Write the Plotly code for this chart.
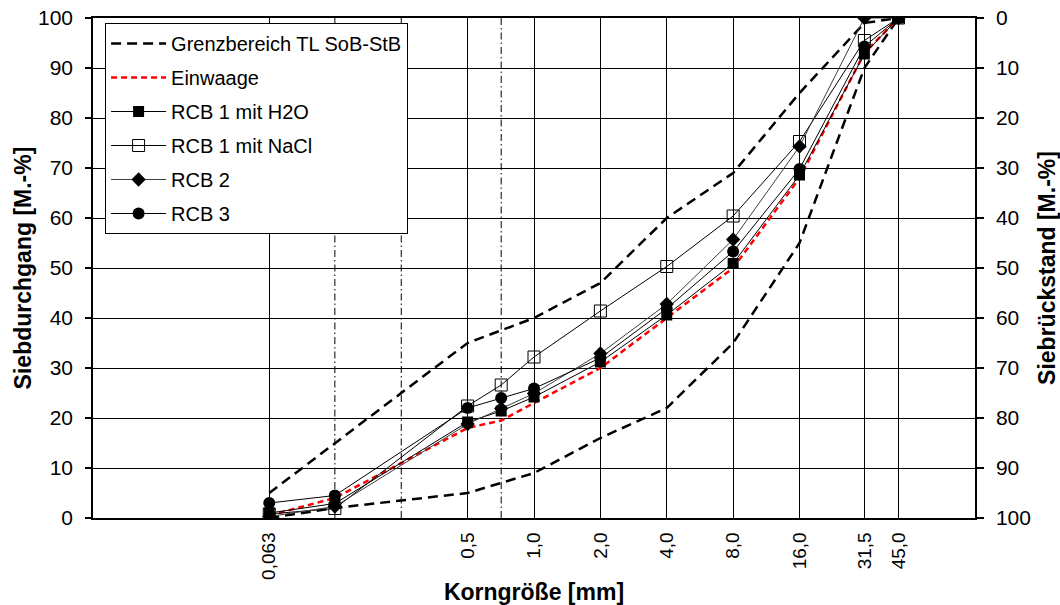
import plotly.graph_objects as go

# ---------------- data ----------------
sieve_ticks = [0.063, 0.5, 1.0, 2.0, 4.0, 8.0, 16.0, 31.5, 45.0]
sieve_tick_text = ["0,063", "0,5", "1,0", "2,0", "4,0", "8,0", "16,0", "31,5", "45,0"]
aux_sieves = [0.125, 0.25, 0.71]          # dash-dot helper sieves (no label)

limit_x = [0.063, 0.125, 0.25, 0.5, 1.0, 2.0, 4.0, 8.0, 16.0, 31.5, 45.0]
limit_upper = [5, 15, 25, 35, 40, 47, 60, 69, 85, 99, 100]
limit_lower = [0, 2, 3.5, 5, 9, 16, 22, 35, 55, 90, 100]

sample_x = [0.063, 0.125, 0.5, 0.71, 1.0, 2.0, 4.0, 8.0, 16.0, 31.5, 45.0]
einwaage = [0.5, 4.0, 18.0, 19.5, 23.0, 30.0, 40.0, 50.0, 68.0, 93.0, 100]
rcb1_h2o = [1.0, 2.9, 19.2, 21.4, 24.2, 31.2, 40.6, 50.9, 68.6, 92.8, 100]
rcb1_nacl = [0.8, 1.9, 22.4, 26.6, 32.2, 41.4, 50.3, 60.4, 75.3, 95.5, 100]
rcb2 = [0.3, 2.3, 18.8, 21.9, 24.9, 32.9, 42.8, 55.7, 74.3, 100, 100]
rcb3 = [3.0, 4.5, 22.0, 24.0, 25.9, 32.0, 41.9, 53.3, 69.8, 94.3, 100]

y_ticks = list(range(0, 101, 10))

FONT = "Liberation Sans, Arial, sans-serif"

fig = go.Figure()

# dash-dot helper lines
for v in aux_sieves:
    fig.add_trace(go.Scatter(
        x=[v, v], y=[0, 100], mode="lines",
        line=dict(color="black", width=1, dash="7px,3px,1.5px,3px"),
        showlegend=False, hoverinfo="skip", legendgroup="aux"))

# limit curves
fig.add_trace(go.Scatter(
    x=limit_x, y=limit_upper, mode="lines", name="Grenzbereich TL SoB-StB",
    line=dict(color="black", width=2.5, dash="10px,6px"),
    legendgroup="limit", legendrank=1))
fig.add_trace(go.Scatter(
    x=limit_x, y=limit_lower, mode="lines", name="Grenzbereich TL SoB-StB",
    line=dict(color="black", width=2.5, dash="10px,6px"),
    legendgroup="limit", showlegend=False))

fig.add_trace(go.Scatter(
    x=sample_x, y=einwaage, mode="lines", name="Einwaage",
    line=dict(color="#ff0000", width=2.5, dash="6px,4px"),
    legendgroup="ein", legendrank=2))

fig.add_trace(go.Scatter(
    x=sample_x, y=rcb1_h2o, mode="lines+markers", name="RCB 1 mit H2O",
    line=dict(color="black", width=1),
    marker=dict(symbol="square", size=11, color="black"),
    legendgroup="h2o", legendrank=3))

fig.add_trace(go.Scatter(
    x=sample_x, y=rcb1_nacl, mode="lines+markers", name="RCB 1 mit NaCl",
    line=dict(color="black", width=1),
    marker=dict(symbol="square-open", size=12, color="black", line=dict(width=1)),
    legendgroup="nacl", legendrank=4))

fig.add_trace(go.Scatter(
    x=sample_x, y=rcb2, mode="lines+markers", name="RCB 2",
    line=dict(color="#404040", width=1),
    marker=dict(symbol="diamond", size=11, color="black"),
    legendgroup="rcb2", legendrank=5))

fig.add_trace(go.Scatter(
    x=sample_x, y=rcb3, mode="lines+markers", name="RCB 3",
    line=dict(color="black", width=1),
    marker=dict(symbol="circle", size=12, color="black"),
    legendgroup="rcb3", legendrank=6))

# invisible trace to activate the right (reversed) axis
fig.add_trace(go.Scatter(
    x=[sample_x[0]], y=[0], yaxis="y2", mode="markers",
    marker=dict(opacity=0), showlegend=False, hoverinfo="skip"))

fig.update_layout(
    width=1060, height=605,
    margin=dict(l=93, r=85, t=18, b=87, autoexpand=False),
    paper_bgcolor="white", plot_bgcolor="white",
    font=dict(family=FONT, size=20, color="black"),
    showlegend=True,
    legend=dict(
        x=0.0137, y=0.99, xanchor="left", yanchor="top",
        bgcolor="white", bordercolor="black", borderwidth=1,
        font=dict(family=FONT, size=20, color="black"),
        traceorder="grouped", tracegroupgap=5, itemwidth=55,
    ),
    xaxis=dict(
        type="log", range=[-2, 2], automargin=False,
        tickmode="array", tickvals=sieve_ticks, ticktext=sieve_tick_text,
        tickangle=-90, tickfont=dict(size=19), ticklabelstandoff=5,
        showgrid=True, gridcolor="black", gridwidth=1,
        showline=True, linecolor="black", linewidth=1.5, mirror=True,
        ticks="", zeroline=False,
        title=dict(text="<b>Korngröße [mm]</b>", font=dict(size=23), standoff=6),
    ),
    yaxis=dict(
        range=[0, 100], tickmode="array", tickvals=y_ticks, automargin=False,
        tickfont=dict(size=21), ticklabelstandoff=8,
        showgrid=True, gridcolor="black", gridwidth=1,
        showline=True, linecolor="black", linewidth=1.5,
        ticks="outside", ticklen=6, tickcolor="black", tickwidth=1.5,
        zeroline=False,
        title=dict(text="<b>Siebdurchgang [M.-%]</b>", font=dict(size=23), standoff=0),
    ),
    yaxis2=dict(
        overlaying="y", side="right", range=[100, 0], automargin=False,
        tickmode="array", tickvals=y_ticks,
        tickfont=dict(size=21), ticklabelstandoff=8,
        showgrid=False, showline=True, linecolor="black", linewidth=1.5,
        ticks="outside", ticklen=7, tickcolor="black", tickwidth=1.5,
        zeroline=False,
        title=dict(text="<b>Siebrückstand [M.-%]</b>", font=dict(size=23), standoff=9),
    ),
)

fig.write_html("out.html")
